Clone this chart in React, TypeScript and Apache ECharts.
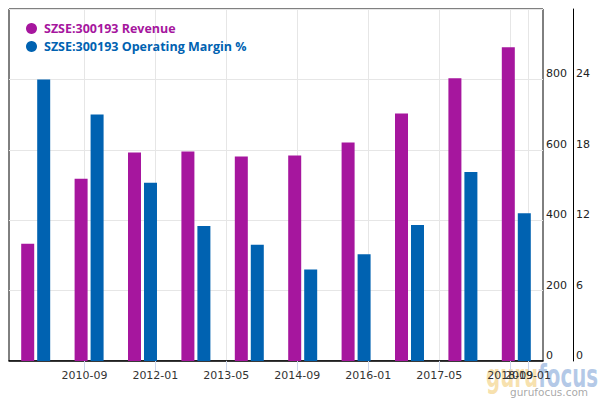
import React, { useEffect, useRef } from "react";
import * as echarts from "echarts";

const categories = ["2009", "2010", "2011", "2012", "2013", "2014", "2015", "2016", "2017", "2018"];
const revenue = [333, 518, 592, 595, 581, 584, 621, 703, 803, 891];
const operatingMargin = [24.0, 21.0, 15.2, 11.5, 9.9, 7.8, 9.1, 11.6, 16.1, 12.6];
const xTickLabels = ["2010-09", "2012-01", "2013-05", "2014-09", "2016-01", "2017-05", "2018-09", "2019-01"];
const xRange = ["2009-04", "2019-04"];

const REV_COLOR = "#A6169E";
const OM_COLOR = "#0062B1";

const toMonth = (s: string) => {
  const [y, m] = s.split("-").map(Number);
  return y * 12 + (m - 1);
};
const fromMonth = (v: number) => {
  const r = Math.round(v);
  const y = Math.floor(r / 12);
  const m = r - y * 12 + 1;
  return `${y}-${String(m).padStart(2, "0")}`;
};

export default function App() {
  const ref = useRef<HTMLDivElement>(null);
  useEffect(() => {
    document.body.style.margin = "0";
    const chart = echarts.init(ref.current!, null, { renderer: "svg" });
    const tickVals = xTickLabels.map(toMonth);
    const axisFont = { fontFamily: "DejaVu Sans", fontSize: 11, color: "#333" };
    const xMin = toMonth(xRange[0]);
    const xMax = toMonth(xRange[1]) + 0.4;
    const mainTicks = tickVals.slice(0, -1);
    const lastTick = tickVals.slice(-1);
    chart.setOption({
      animation: false,
      grid: { left: 9, top: 9, right: 57, bottom: 39, show: true, borderColor: "#000", borderWidth: 1 },
      legend: {
        orient: "vertical",
        left: 21,
        top: 17,
        itemWidth: 11,
        itemHeight: 11,
        itemGap: 5,
        icon: "circle",
        textStyle: { fontFamily: "Open Sans", fontWeight: "bold", fontSize: 12.5, padding: [0, 0, 0, 2] },
        data: [
          { name: "SZSE:300193 Revenue", textStyle: { color: REV_COLOR } },
          { name: "SZSE:300193 Operating Margin %", textStyle: { color: OM_COLOR } },
        ],
      },
      xAxis: [
        {
          type: "category",
          data: categories,
          show: false,
          position: "bottom",
        },
        {
          type: "value",
          position: "bottom",
          min: xMin,
          max: xMax,
          axisLine: { show: true, lineStyle: { color: "#000", width: 1.5 } },
          axisTick: { show: true, length: 10, customValues: tickVals, lineStyle: { color: "#ccd6eb" } },
          axisLabel: { ...axisFont, margin: 9, hideOverlap: false, customValues: mainTicks, formatter: (v: number) => fromMonth(v) },
          splitLine: { show: true, lineStyle: { color: "#e6e6e6" } },
        },
        {
          type: "value",
          position: "bottom",
          min: xMin,
          max: xMax,
          axisLine: { show: false },
          axisTick: { show: false },
          axisLabel: { ...axisFont, margin: 9, customValues: lastTick, formatter: (v: number) => fromMonth(v) },
          splitLine: { show: false },
        },
      ],
      yAxis: [
        {
          type: "value",
          position: "right",
          min: 0,
          max: 1000,
          interval: 200,
          axisLine: { show: false },
          axisTick: { show: false },
          axisLabel: { ...axisFont, color: "#222", margin: 3, showMaxLabel: false, verticalAlign: "bottom" },
          splitLine: { show: true, lineStyle: { color: "#e6e6e6" } },
        },
        {
          type: "value",
          position: "right",
          offset: 30,
          min: 0,
          max: 30,
          interval: 6,
          axisLine: { show: true, lineStyle: { color: "#000" } },
          axisTick: { show: false },
          axisLabel: { ...axisFont, color: "#222", margin: 3, showMaxLabel: false, verticalAlign: "bottom" },
          splitLine: { show: false },
        },
      ],
      series: [
        {
          name: "SZSE:300193 Revenue",
          type: "bar",
          xAxisIndex: 0,
          yAxisIndex: 0,
          data: revenue,
          barWidth: 13,
          barGap: "23%",
          itemStyle: { color: REV_COLOR },
        },
        {
          name: "SZSE:300193 Operating Margin %",
          type: "bar",
          xAxisIndex: 0,
          yAxisIndex: 1,
          data: operatingMargin,
          barWidth: 13,
          barGap: "23%",
          itemStyle: { color: OM_COLOR },
        },
      ],
      graphic: [
        {
          type: "text",
          x: 486,
          y: 376,
          scaleX: 0.62,
          z: -1,
          silent: true,
          style: {
            text: "{g|guru}{f|focus}",
            verticalAlign: "middle",
            rich: {
              g: { fontFamily: "DejaVu Sans", fontWeight: "bold", fontSize: 32, fill: "rgba(242,205,120,0.6)" },
              f: { fontFamily: "DejaVu Sans", fontWeight: "bold", fontSize: 32, fill: "rgba(130,165,215,0.6)" },
            },
          },
        },
        {
          type: "text",
          x: 510,
          y: 392,
          z: -1,
          silent: true,
          style: { text: "gurufocus.com", verticalAlign: "middle", fontFamily: "DejaVu Sans", fontSize: 10.5, fill: "rgba(130,130,130,0.7)" },
        },
      ],
    });
    return () => chart.dispose();
  }, []);
  return <div ref={ref} style={{ width: 600, height: 400 }} />;
}
